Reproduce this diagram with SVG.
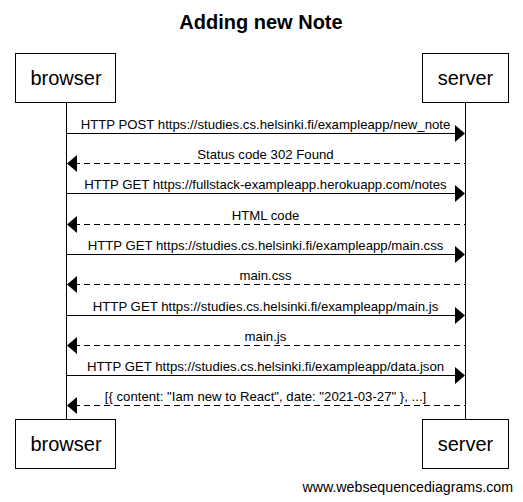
<svg xmlns="http://www.w3.org/2000/svg" width="523" height="502" viewBox="0 0 523 502">
<style>
.box{fill:#fff;stroke:#000;stroke-width:1}
.pt{font-family:"Liberation Sans",Arial,sans-serif;font-size:20px;text-anchor:middle;fill:#000}
.lbl{font-family:"Liberation Sans",Arial,sans-serif;font-size:13.2px;text-anchor:middle;fill:#000}
.life{stroke:#000;stroke-width:1}
.msg{stroke:#000;stroke-width:1;fill:none}
.dash{stroke-dasharray:6,4}
.head{fill:#000}
</style>
<rect width="523" height="502" fill="#fff"/>
<text x="261" y="29" font-family="'Liberation Sans',Arial,sans-serif" font-size="20" font-weight="bold" text-anchor="middle">Adding new Note</text>
<g id="lifelines">
<line class="life" x1="66.5" y1="102" x2="66.5" y2="419"/>
<line class="life" x1="465.5" y1="102" x2="465.5" y2="419"/>
</g>
<g id="browser-top"><rect class="box" x="15.5" y="53.5" width="100" height="49"/><text class="pt" x="66" y="85">browser</text></g>
<g id="server-top"><rect class="box" x="422.5" y="53.5" width="86" height="49"/><text class="pt" x="465.5" y="85">server</text></g>
<g id="browser-bottom"><rect class="box" x="15.5" y="419.5" width="100" height="49"/><text class="pt" x="66" y="451">browser</text></g>
<g id="server-bottom"><rect class="box" x="422.5" y="419.5" width="86" height="49"/><text class="pt" x="465.5" y="451">server</text></g>
<g id="connectors">
<line class="msg" x1="66.5" y1="133.5" x2="458" y2="133.5"/><polygon class="head" points="455,125 465,133.5 455,142"/>
<text class="lbl" x="265.5" y="129">HTTP POST https://studies.cs.helsinki.fi/exampleapp/new_note</text>
<line class="msg dash" x1="74" y1="163.5" x2="465" y2="163.5"/><polygon class="head" points="77,155 67,163.5 77,172"/>
<text class="lbl" x="265.5" y="159">Status code 302 Found</text>
<line class="msg" x1="66.5" y1="193.5" x2="458" y2="193.5"/><polygon class="head" points="455,185 465,193.5 455,202"/>
<text class="lbl" x="265.5" y="189">HTTP GET https://fullstack-exampleapp.herokuapp.com/notes</text>
<line class="msg dash" x1="74" y1="224.5" x2="465" y2="224.5"/><polygon class="head" points="77,216 67,224.5 77,233"/>
<text class="lbl" x="265.5" y="220">HTML code</text>
<line class="msg" x1="66.5" y1="254.5" x2="458" y2="254.5"/><polygon class="head" points="455,246 465,254.5 455,263"/>
<text class="lbl" x="265.5" y="250">HTTP GET https://studies.cs.helsinki.fi/exampleapp/main.css</text>
<line class="msg dash" x1="74" y1="284.5" x2="465" y2="284.5"/><polygon class="head" points="77,276 67,284.5 77,293"/>
<text class="lbl" x="265.5" y="280">main.css</text>
<line class="msg" x1="66.5" y1="315.5" x2="458" y2="315.5"/><polygon class="head" points="455,307 465,315.5 455,324"/>
<text class="lbl" x="265.5" y="311">HTTP GET https://studies.cs.helsinki.fi/exampleapp/main.js</text>
<line class="msg dash" x1="74" y1="345.5" x2="465" y2="345.5"/><polygon class="head" points="77,337 67,345.5 77,354"/>
<text class="lbl" x="265.5" y="341">main.js</text>
<line class="msg" x1="66.5" y1="375.5" x2="458" y2="375.5"/><polygon class="head" points="455,367 465,375.5 455,384"/>
<text class="lbl" x="265.5" y="371">HTTP GET https://studies.cs.helsinki.fi/exampleapp/data.json</text>
<line class="msg dash" x1="74" y1="405.5" x2="465" y2="405.5"/><polygon class="head" points="77,397 67,405.5 77,414"/>
<text class="lbl" x="265.5" y="401">[{ content: "Iam new to React", date: "2021-03-27" }, ...]</text>
</g>
<text x="513" y="492" font-family="'Liberation Sans',Arial,sans-serif" font-size="14.2" text-anchor="end">www.websequencediagrams.com</text>
</svg>
